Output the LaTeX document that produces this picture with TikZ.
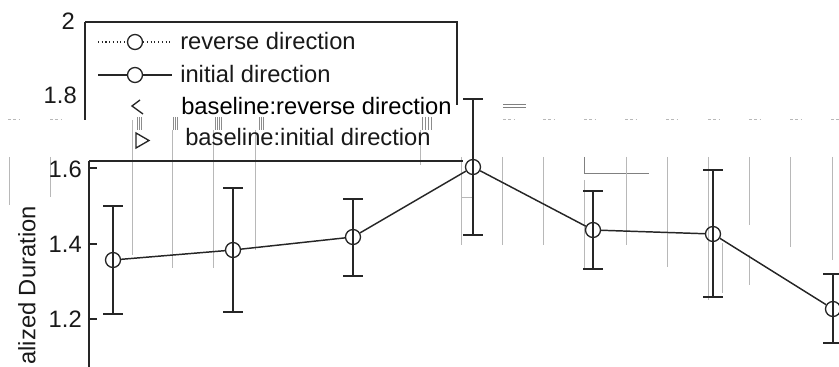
\documentclass[tikz,border=0pt]{standalone}
\usepackage{fontspec}
\setmainfont{Liberation Sans}
\begin{document}
\begin{tikzpicture}[x=0.75pt,y=-0.75pt,
  ax/.style={line width=1.1pt, draw=black!85},
  ln/.style={line width=1.1pt, draw=black!85},
  mk/.style={circle, draw=black!85, line width=1pt, minimum size=11.25pt, inner sep=0pt},
  lbl/.style={font=\fontsize{17.8}{20}\selectfont, text=black!90, inner sep=0pt},
  faint/.style={draw=black!28, line width=0.5pt},
  faintmid/.style={draw=black!50, line width=0.7pt}]
\useasboundingbox (0,0) rectangle (839,367);

% ---- faint artefact lines ----
\foreach \x/\ya/\yb in {9/157/205, 50/157/197, 132/120/255, 172/130/268, 213/130/268, 255/130/250,
  420/130/165, 461/157/245, 502/157/245, 543/157/245, 584/180/270, 626/157/245, 667/157/267,
  708/157/300, 722/243/293, 749/157/225, 749/255/285, 790/157/247, 832/157/260}
  \draw[faint] (\x,\ya) -- (\x,\yb);
\foreach \x in {8,50,503,543,584,625,666,708,749,790,831}
  \draw[faint, dash pattern=on 2pt off 2pt] (\x,119) -- ++(12,0);
\foreach \x in {137,139,141,173,175,177,215,217,219,221,259,261,263,422,425,428,431}
  \draw[faint, draw=black!45] (\x,117) -- (\x,130);
\draw[faintmid] (503,104) -- (526,104);
\draw[faintmid] (503,107) -- (526,107);
\draw[faintmid] (584,157) -- (584,173) -- (649,173);
\draw[faint] (626,157) -- (626,185);
\draw[faint] (461,187) -- (461,197) -- (472,197);

% ---- axes ----
\coordinate (ytop) at (85,22);
\coordinate (ymid) at (85,120);
\coordinate (ylow) at (89,161);
\coordinate (ybot) at (89,367);
\draw[ax] (ymid) -- (ytop);
\draw[ax] (ylow) -- (ybot);
\draw[ax] (85,22) -- (92,22);
\foreach \y in {168,244,319} \draw[ax] (89,\y) -- (97,\y);

\node[lbl, anchor=east] (t2) at (75,21) {2};
\node[lbl, anchor=east] (t18) at (77,95) {1.8};
\node[lbl, anchor=east] (t16) at (82,169) {1.6};
\node[lbl, anchor=east] (t14) at (82,244) {1.4};
\node[lbl, anchor=east] (t12) at (82,319) {1.2};
\node[lbl, rotate=90, anchor=east] (ylab) at (27,206) {alized Duration};

% ---- legend box ----
\coordinate (lgtl) at (85,22);
\coordinate (lgtr) at (457,22);
\coordinate (lgr) at (457,105);
\coordinate (lgbl) at (89,161);
\coordinate (lgbr) at (463,161);
\draw[ax] (lgtl) -- (lgtr) -- (lgr);
\draw[ax] (lgbl) -- (lgbr);

% legend entries
\coordinate (l1a) at (98,42); \coordinate (l1b) at (172,42);
\node[mk] (l1m) at (135,42) {};
\draw[ln, line width=0.8pt, dotted] (l1a) -- (l1m) -- (l1b);
\node[lbl, anchor=base west] (l1t) at (180,50) {reverse direction};

\coordinate (l2a) at (98,75); \coordinate (l2b) at (172,75);
\node[mk] (l2m) at (135,75) {};
\draw[ln] (l2a) -- (l2m) -- (l2b);
\node[lbl, anchor=base west] (l2t) at (180,83) {initial direction};

\draw[ln, line width=1pt] (140,100) -- (132,106) -- (143,114);
\node[lbl, anchor=base west, text=black] (l3t) at (181,115) {baseline:reverse direction};

\draw[ln, line width=1pt] (136,133) -- (149,140.5) -- (136,148) -- cycle;
\node[lbl, anchor=base west] (l4t) at (185,146) {baseline:initial direction};

% ---- data ----
\foreach \i/\x/\y/\t/\b in {1/113/260/206/314, 2/233/250/188/312, 3/353/237/199/276,
  4/473/167/99/235, 5/593/230/191/269, 6/713/234/170/297, 7/833/309/274/343}{
  \coordinate (et\i) at (\x,\t);
  \coordinate (eb\i) at (\x,\b);
  \draw[ln] (et\i) -- (eb\i);
  \draw[ln] ([xshift=-7.5pt]et\i) -- ([xshift=7.5pt]et\i);
  \draw[ln] ([xshift=-7.5pt]eb\i) -- ([xshift=7.5pt]eb\i);
  \node[mk] (p\i) at (\x,\y) {};
}
\draw[ln] (p1) -- (p2) -- (p3) -- (p4) -- (p5) -- (p6) -- (p7);
\end{tikzpicture}
\end{document}
